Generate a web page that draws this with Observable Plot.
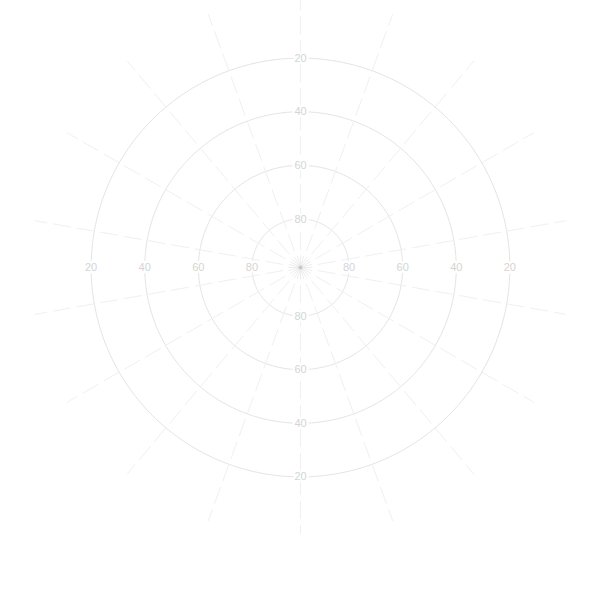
<!DOCTYPE html>
<html>
<head>
<meta charset="utf-8">
<script src="https://cdn.jsdelivr.net/npm/d3@7"></script>
<script src="https://cdn.jsdelivr.net/npm/@observablehq/plot@0.6"></script>
<style>html,body{margin:0;padding:0;background:#fff}</style>
</head>
<body>
<div id="chart"></div>
<script>
// Altitude rings (degrees above horizon) and their labels
const altitudes = [20, 40, 60, 80];
// Directions (azimuth, degrees) where ring labels are written
const labelAzimuths = [0, 90, 180, 270];
// Long dashed azimuth spokes
const spokeAzimuths = [0, 20, 40, 60, 80, 100, 120, 140, 160, 180, 200, 220, 240, 260, 280, 300, 320, 340];
// Short spokes of the small star at the zenith
const burstAzimuths = [0, 15, 30, 45, 60, 75, 90, 105, 120, 135, 150, 165,
                       180, 195, 210, 225, 240, 255, 270, 285, 300, 315, 330, 345];

const zenithOffset = 8.1;      // radial offset of the altitude scale
const viewRadius = 99.6;       // angular radius of the visible disc
const rho = (v) => 90 - v + zenithOffset;

const labels = labelAzimuths.flatMap((az) => altitudes.map((v) => ({az, v})));

const chart = Plot.plot({
  width: 600,
  height: 534,
  margin: 0,
  style: {background: "white", fontFamily: "sans-serif"},
  projection: {
    type: "azimuthal-equidistant",
    rotate: [0, -90],
    domain: d3.geoCircle().center([0, 90]).radius(viewRadius)()
  },
  marks: [
    Plot.geo(altitudes, {
      geometry: (v) => d3.geoCircle().center([0, 90]).radius(rho(v)).precision(1)(),
      fill: "none",
      stroke: "#e4e4e4",
      strokeWidth: 1
    }),
    Plot.link(spokeAzimuths, {
      x1: (d) => d, y1: 90 - 6.5,
      x2: (d) => d, y2: 90 - 100.6,
      stroke: "#f0f0f0",
      strokeWidth: 1,
      strokeDasharray: "18,6"
    }),
    Plot.link(burstAzimuths, {
      x1: (d) => d, y1: 90,
      x2: (d) => d, y2: 90 - 4.5,
      stroke: "#e8e8e8",
      strokeWidth: 0.8
    }),
    Plot.text(labels, {
      x: "az",
      y: (d) => 90 - rho(d.v),
      text: (d) => String(d.v),
      fill: "#d4d4d4",
      stroke: "white",
      strokeWidth: 5,
      fontSize: 11
    }),
    Plot.dot([90], {x: 0, y: (d) => d, r: 2, fill: "#c8c8c8", stroke: "none"})
  ]
});
document.getElementById("chart").appendChild(chart);
</script>
</body>
</html>
